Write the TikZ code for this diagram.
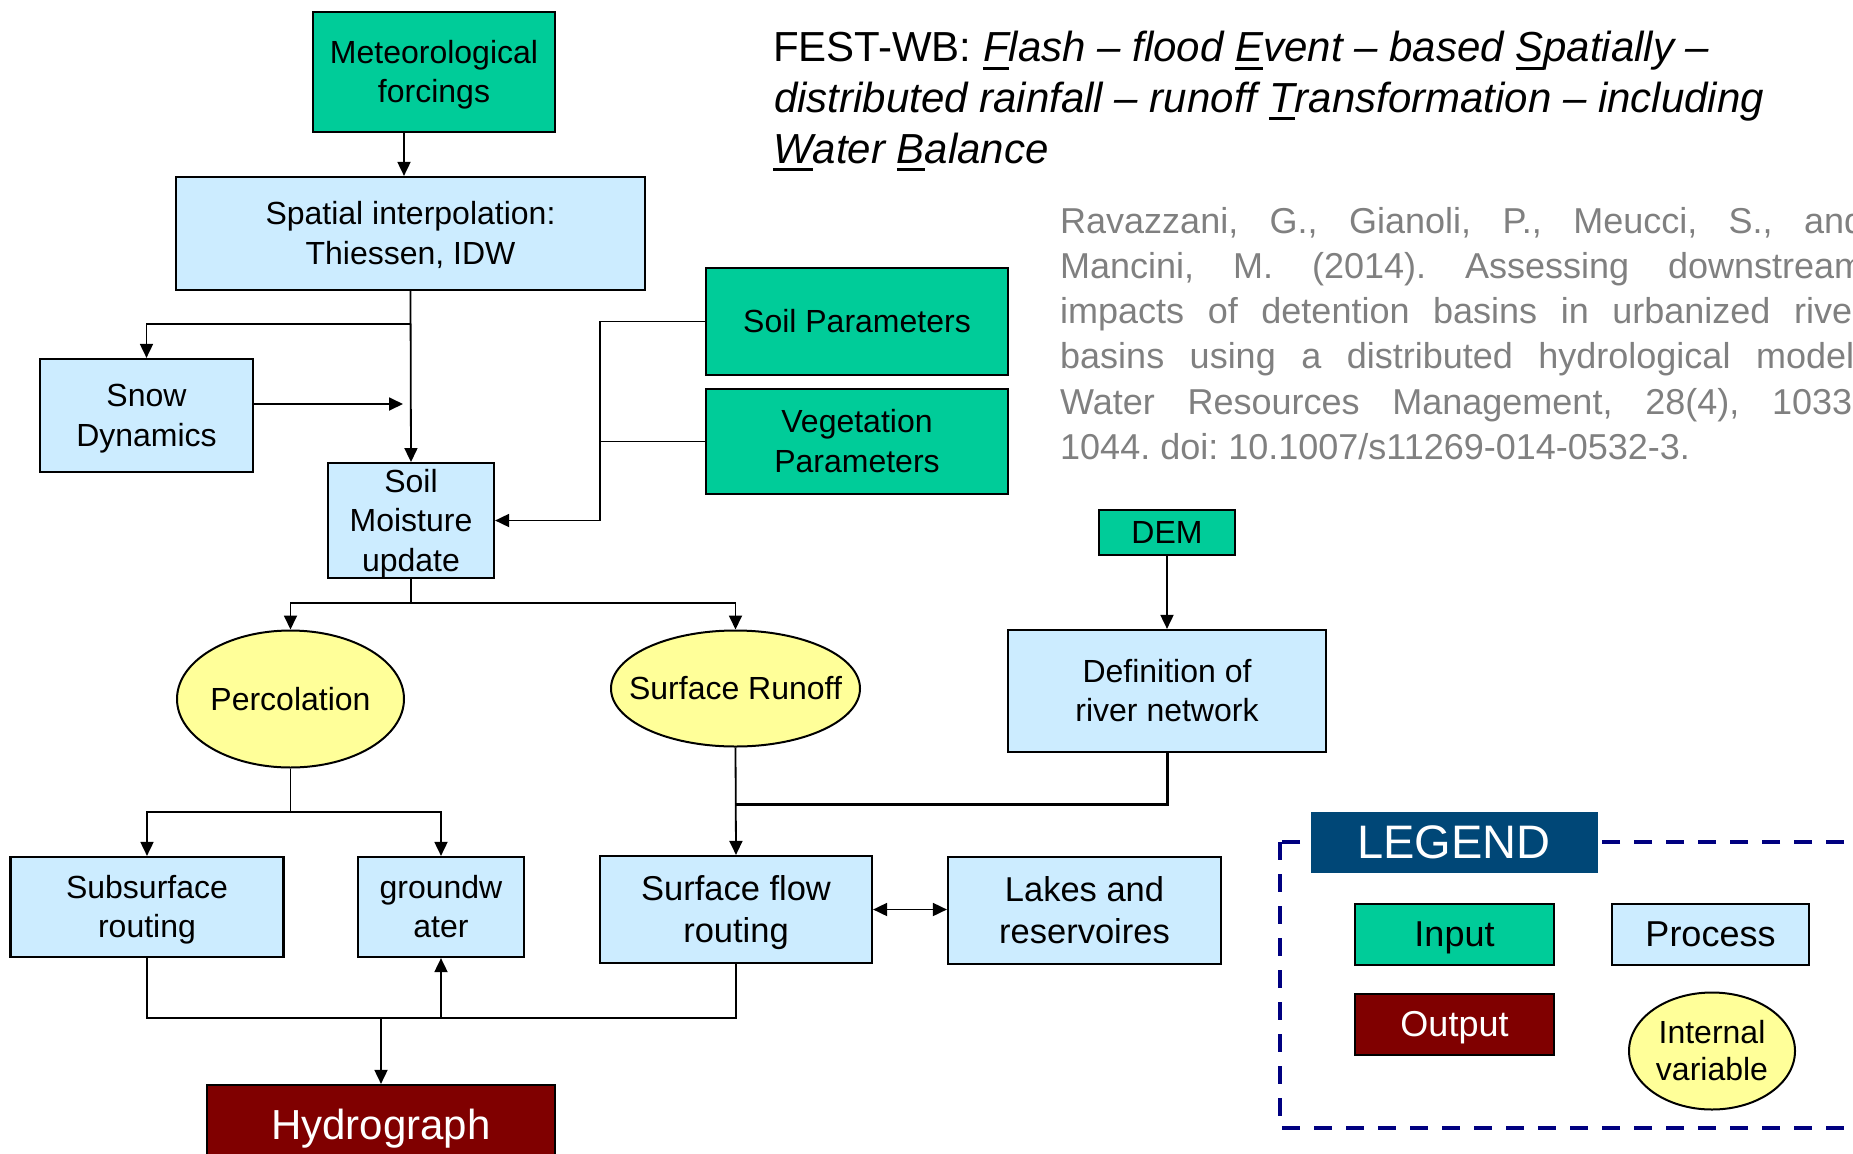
\documentclass[tikz,border=0pt]{standalone}
\usepackage{fontspec}
\setmainfont{Liberation Sans}
\usetikzlibrary{arrows.meta,shapes.geometric}
\definecolor{inp}{RGB}{0,204,153}
\definecolor{proc}{RGB}{204,236,255}
\definecolor{ivarcol}{RGB}{255,255,153}
\definecolor{outp}{RGB}{128,0,0}
\definecolor{legbg}{RGB}{0,71,119}
\definecolor{legdash}{RGB}{0,0,128}
\definecolor{citegray}{RGB}{128,128,128}
\newcommand\ulx[1]{\setbox0=\hbox{#1}\rlap{\rule[-8pt]{\wd0}{3pt}}\box0}
\newcommand\tsx{\rule{0pt}{0.905em}}
\newcommand\bsx{\rule[-0.212em]{0pt}{0.212em}}
\begin{document}
\begin{tikzpicture}[x=1pt,y=-1pt,
  box/.style={draw=black, line width=2.2pt, rectangle, inner sep=0pt, align=center, font=\fontsize{32}{39.5}\selectfont},
  inbox/.style={box, fill=inp},
  prbox/.style={box, fill=proc},
  bigbox/.style={prbox, font=\fontsize{34.5}{42.5}\selectfont},
  ivar/.style={draw=black, line width=2pt, ellipse, fill=ivarcol, inner sep=0pt, align=center, font=\fontsize{32}{38}\selectfont},
  conn/.style={line width=1.8pt},
  arr/.style={conn, -{Triangle[length=14pt,width=13pt]}},
  dblarr/.style={conn, {Triangle[length=14pt,width=13pt]}-{Triangle[length=14pt,width=13pt]}},
  titletxt/.style={anchor=base west, inner sep=0pt, font=\fontsize{42}{50}\selectfont},
]
\useasboundingbox (0,0) rectangle (1853,1154);
\clip (0,0) rectangle (1853,1154);

% nodes
\node[inbox, minimum width=242pt, minimum height=120pt] (met) at (434,72) {\tsx Meteorological\\forcings\bsx};
\node[prbox, minimum width=469pt, minimum height=113pt] (spat) at (410.5,233.5) {\tsx Spatial interpolation:\\Thiessen, IDW\bsx};
\node[prbox, minimum width=213pt, minimum height=113pt] (snow) at (146.5,415.5) {\tsx Snow\\Dynamics\bsx};
\node[prbox, minimum width=166pt, minimum height=113pt] (soil) at (411,520.5) {\tsx Soil\\Moisture\\update\bsx};
\node[inbox, minimum width=302pt, minimum height=107pt] (soilp) at (857,321.5) {\tsx Soil Parameters\bsx};
\node[inbox, minimum width=302pt, minimum height=105pt] (vegp) at (857,441.5) {\tsx Vegetation\\Parameters\bsx};
\node[inbox, minimum width=136pt, minimum height=45pt] (dem) at (1167,532.5) {\tsx DEM\bsx};
\node[prbox, minimum width=318pt, minimum height=122pt] (defn) at (1167,691) {\tsx Definition of\\river network\bsx};
\node[ivar, minimum width=227pt, minimum height=137pt] (perc) at (290.5,699) {\tsx\makebox[0pt]{Percolation}\bsx};
\node[ivar, minimum width=249pt, minimum height=116pt] (srun) at (735.5,688.5) {\tsx\makebox[0pt]{Surface Runoff}\bsx};
\node[prbox, minimum width=273pt, minimum height=100pt] (subs) at (147,907) {\tsx Subsurface\\routing\bsx};
\node[prbox, minimum width=166pt, minimum height=100pt] (gw) at (441,907) {\tsx groundw\\ater\bsx};
\node[bigbox, minimum width=272pt, minimum height=107pt] (sfr) at (736,909.5) {\tsx Surface flow\\routing\bsx};
\node[bigbox, minimum width=273pt, minimum height=107pt] (lakes) at (1084.5,910.5) {\tsx Lakes and\\reservoires\bsx};
\node[box, fill=outp, text=white, font=\fontsize{42}{50}\selectfont, minimum width=348pt, minimum height=80pt] (hyd) at (381,1125) {\tsx Hydrograph\bsx};

% junction coordinates
\coordinate (j1) at (411,324);
\coordinate (j2) at (403,404);
\coordinate (j3) at (411,603);
\coordinate (j4) at (290.5,812);
\coordinate (j5) at (736,804);
\coordinate (j6) at (381,1018);
\coordinate (jx) at (600,0);

% connectors
\draw[arr] ([xshift=-30pt]met.south) -- ([xshift=-30pt]met.south |- spat.north);
\draw[arr] (spat.south) -- (soil.north);
\draw[arr] (j1) -| (snow.north);
\draw[arr] (snow.east |- j2) -- (j2);
\draw[arr] (soilp.west) -| (jx |- soil.east) -- (soil.east);
\draw[conn] (vegp.west) -- (jx |- vegp.west);
\draw[conn] (soil.south) -- (j3);
\draw[arr] (j3) -| (perc.north);
\draw[arr] (j3) -| (srun.north);
\draw[arr] (dem.south) -- (defn.north);
\draw[conn] (perc.south) -- (j4);
\draw[arr] (j4) -| (subs.north);
\draw[arr] (j4) -| (gw.north);
\draw[arr] (srun.south) -- (sfr.north);
\draw[line width=3pt] (defn.south) |- (j5);
\draw[dblarr] (sfr.east) -- (lakes.west |- sfr.east);
\draw[conn] (subs.south) |- (j6) -| (sfr.south);
\draw[arr] (j6 -| gw.south) -- (gw.south);
\draw[arr] (j6) -- (hyd.north);

% title
\node[titletxt] (title1) at (773,61.7) {FEST-WB: \textit{\ulx{F}lash – flood \ulx{E}vent – based \ulx{S}patially –}};
\node[titletxt] (title2) at (774,112) {\textit{distributed rainfall – runoff \ulx{T}ransformation – including}};
\node[titletxt] (title3) at (773,163) {\textit{\ulx{W}ater \ulx{B}alance}};

% citation
\node[anchor=base west, inner sep=0pt, text width=804pt, align=justify, text=citegray, font=\fontsize{36}{45.3}\selectfont] (cite) at (1060,233)
 {\frenchspacing\tolerance=10000 \hbadness=10000 Ravazzani, G., Gianoli, P., Meucci, S., and\linebreak
  Mancini, M. (2014). Assessing downstream\linebreak
  impacts of detention basins in urbanized river\linebreak
  basins using a distributed hydrological model.\linebreak
  Water Resources Management, 28(4), 1033-\linebreak
  1044. doi: 10.1007/s11269-014-0532-3.};

% legend
\draw[legdash, line width=3.5pt, dash pattern=on 18pt off 14pt] (1280,842) rectangle (1900,1128);
\node[fill=legbg, minimum width=287pt, minimum height=61pt, inner sep=0pt, text=white, font=\fontsize{47}{50}\selectfont] (legtitle) at (1454,842.5) {\tsx LEGEND\bsx};
\node[inbox, font=\fontsize{36}{42}\selectfont, minimum width=199pt, minimum height=61pt] (leginput) at (1454.5,934.5) {\tsx Input\bsx};
\node[prbox, font=\fontsize{36}{42}\selectfont, minimum width=197pt, minimum height=61pt] (legproc) at (1710.5,934.5) {\tsx Process\bsx};
\node[box, fill=outp, text=white, font=\fontsize{36}{42}\selectfont, minimum width=199pt, minimum height=61pt] (legout) at (1454.5,1024.5) {\tsx Output\bsx};
\node[ivar, font=\fontsize{32}{37}\selectfont, minimum width=166pt, minimum height=117pt] (legivar) at (1712,1051) {\tsx Internal\\variable\bsx};
\end{tikzpicture}
\end{document}
